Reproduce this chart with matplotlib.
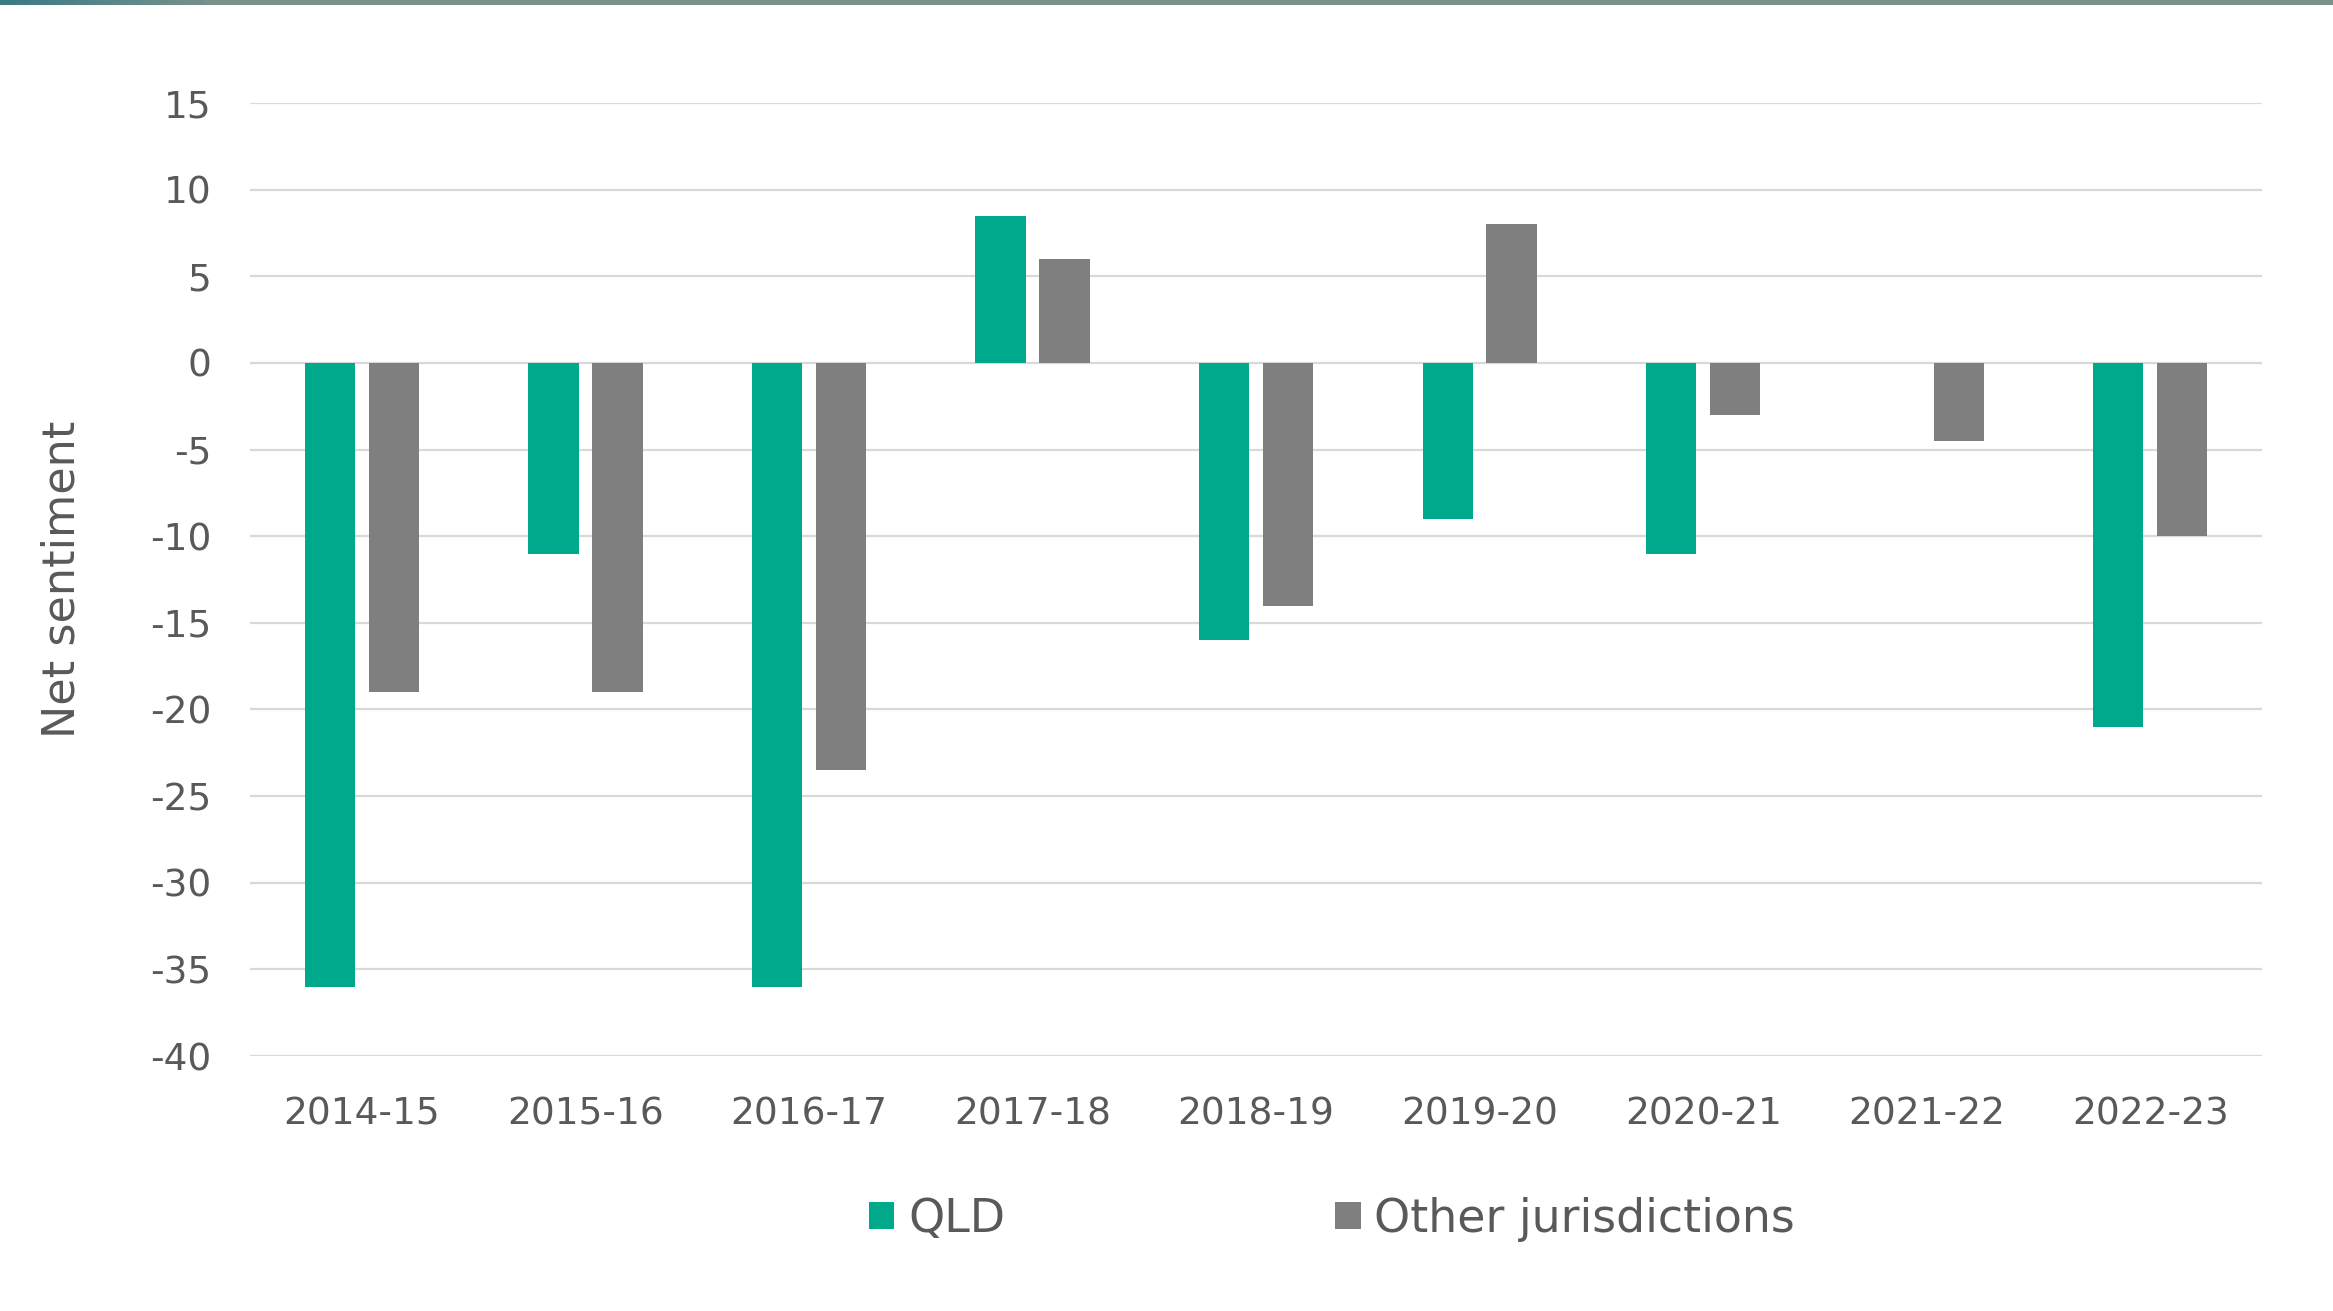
import numpy as np
import matplotlib
matplotlib.use("Agg")
import matplotlib.pyplot as plt

# ─── DATA ──────────────────────────────────────────────────────────────────────

years = ["2014-15", "2015-16", "2016-17", "2017-18", "2018-19",
         "2019-20", "2020-21", "2021-22", "2022-23"]
qld = [-36, -11, -36, 8.5, -16, -9, -11, 0, -21]
other = [-19, -19, -23.5, 6, -14, 8, -3, -4.5, -10]

series_names = ["QLD", "Other jurisdictions"]
teal = "#00a88c"
grey = "#7f7f7f"
text_col = "#595959"

plt.rcParams["font.family"] = ["DejaVu Sans"]
plt.rcParams["axes.unicode_minus"] = False

# ─── PLOT ──────────────────────────────────────────────────────────────────────

fig = plt.figure(figsize=(23.33, 13.11), dpi=100)
ax = fig.add_axes([0.1072, 0.1945, 0.8624, 0.7269])

x = np.arange(len(years))
w = 0.225
off = 0.143
ax.bar(x - off, qld, w, color=teal, label=series_names[0], zorder=3)
ax.bar(x + off, other, w, color=grey, label=series_names[1], zorder=3)

ax.set_xlim(-0.5, len(years) - 0.5)
ax.set_ylim(-40, 15)
ax.set_yticks(np.arange(-40, 16, 5))
ax.set_xticks(x)
ax.set_xticklabels(years)

ax.grid(axis="y", color="#d9d9d9", linewidth=1.6, zorder=0)
for s in ax.spines.values():
    s.set_visible(False)
ax.tick_params(axis="both", length=0, labelsize=27, colors=text_col)
ax.tick_params(axis="x", pad=29)
ax.tick_params(axis="y", pad=28)

ax.set_ylabel("Net sentiment", fontsize=32, color=text_col)
ax.yaxis.set_label_coords(-0.083, 0.5)

fig.legend(loc="center", bbox_to_anchor=(0.571, 0.070), ncol=2, frameon=False,
           fontsize=33, handlelength=0.55, handleheight=0.55,
           handletextpad=0.3, columnspacing=7.2, labelcolor=text_col)

# thin banner strip along the top edge
band = fig.add_axes([0, 0.9962, 1, 0.0038])
grad = np.linspace(0, 1, 400)
band.imshow(grad[np.newaxis, :], aspect="auto",
            cmap=matplotlib.colors.LinearSegmentedColormap.from_list(
                "band", [(0, "#3c7a86"), (0.09, "#7a928c"), (1, "#7a928c")]),
            extent=[0, 1, 0, 1])
band.set_axis_off()

fig.savefig("out.png", dpi=100, facecolor="white")
